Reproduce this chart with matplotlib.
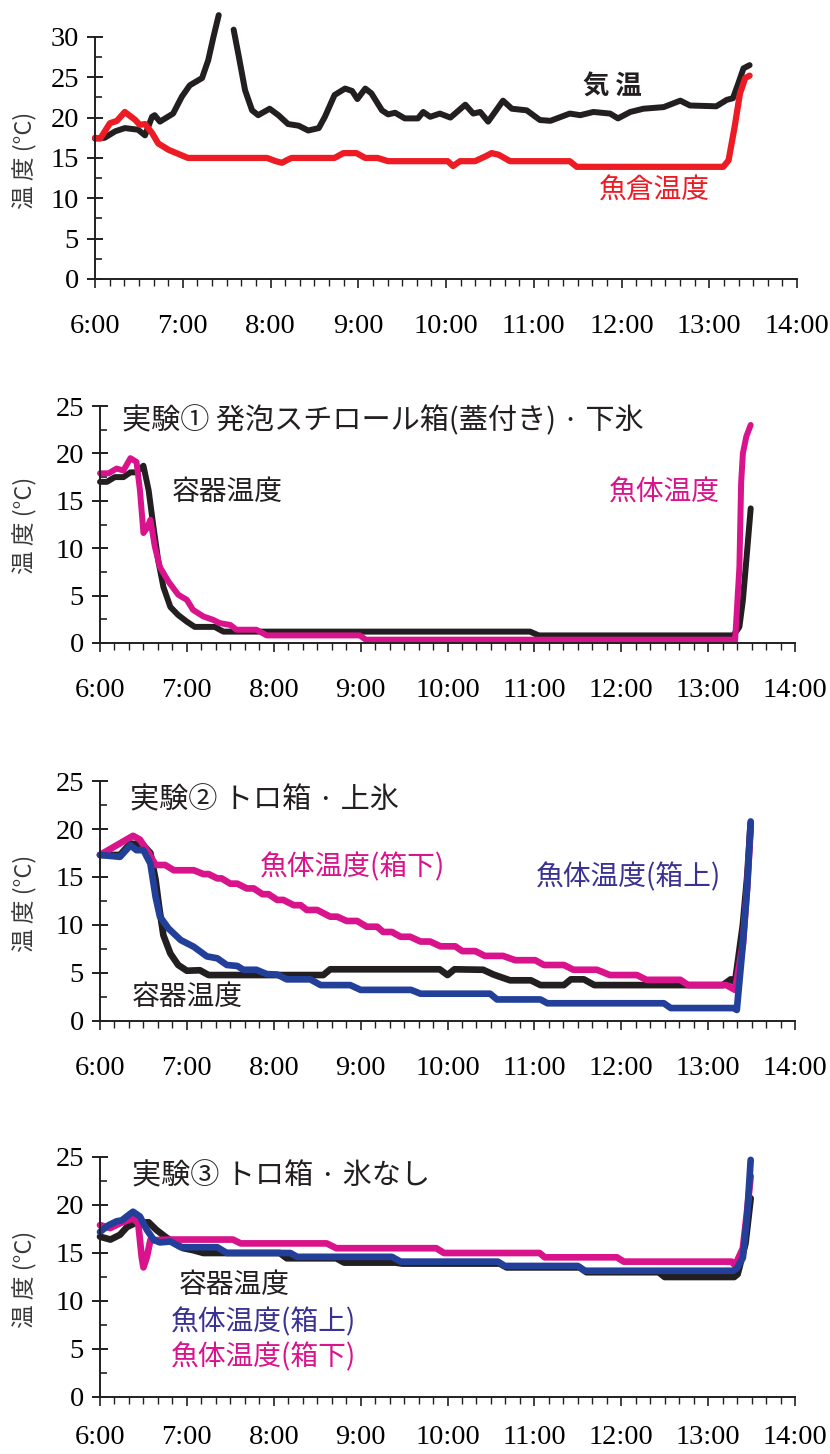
import numpy as np
import matplotlib
matplotlib.use("Agg")
import matplotlib.pyplot as plt
from matplotlib.ticker import FixedLocator

JP = ['Noto Sans CJK JP', 'DejaVu Sans']
SERIF = ['Liberation Serif', 'DejaVu Serif']
plt.rcParams['font.family'] = JP

nan = np.nan

# ---- time axis ----
hour_ticks = [6, 7, 8, 9, 10, 11, 12, 13, 14]
hour_labels = ["6:00", "7:00", "8:00", "9:00", "10:00", "11:00", "12:00", "13:00", "14:00"]

# ---- panel 1: air temperature and fish-hold temperature ----
t_air = [6.00, 6.11, 6.23, 6.34, 6.49, 6.57, 6.65, 6.68, 6.74, 6.80, 6.89, 6.99, 7.08,
         7.22, 7.29, 7.35, 7.41, 7.50, 7.58, 7.64, 7.71, 7.79, 7.86, 7.99, 8.09, 8.20,
         8.32, 8.43, 8.55, 8.62, 8.73, 8.85, 8.93, 8.99, 9.08, 9.15, 9.27, 9.34, 9.42,
         9.53, 9.68, 9.74, 9.82, 9.93, 10.05, 10.22, 10.31, 10.39, 10.48, 10.65, 10.75,
         10.92, 11.07, 11.19, 11.41, 11.53, 11.68, 11.87, 11.96, 12.10, 12.25, 12.48,
         12.67, 12.78, 13.08, 13.20, 13.27, 13.33, 13.39, 13.46]
air = [17.4, 17.5, 18.3, 18.7, 18.5, 17.8, 20.1, 20.3, 19.5, 19.9, 20.5, 22.6, 24.0,
       24.9, 27.1, 30.0, 32.7, nan, 30.9, 27.5, 23.4, 20.9, 20.3, 21.1, 20.3, 19.2,
       19.0, 18.4, 18.7, 20.1, 22.8, 23.6, 23.3, 22.3, 23.6, 23.0, 20.9, 20.4, 20.6,
       19.9, 19.9, 20.7, 20.1, 20.5, 20.0, 21.6, 20.5, 20.7, 19.5, 22.1, 21.1,
       20.9, 19.7, 19.6, 20.5, 20.3, 20.7, 20.5, 19.9, 20.7, 21.1, 21.3,
       22.1, 21.5, 21.4, 22.2, 22.4, 24.2, 26.1, 26.5]

t_hold = [6.00, 6.06, 6.17, 6.25, 6.34, 6.46, 6.51, 6.57, 6.65, 6.72, 6.84, 6.95, 7.06,
          7.96, 8.06, 8.13, 8.20, 8.24, 8.73, 8.83, 8.98, 9.08, 9.22, 9.34, 10.02, 10.08,
          10.16, 10.33, 10.45, 10.52, 10.60, 10.73, 11.41, 11.49, 13.16, 13.22, 13.29,
          13.35, 13.41, 13.46]
hold = [17.5, 17.4, 19.3, 19.6, 20.7, 19.7, 19.1, 19.2, 18.1, 16.8, 16.0, 15.5, 15.0,
        15.0, 14.6, 14.4, 14.8, 15.0, 15.0, 15.6, 15.6, 15.0, 15.0, 14.6, 14.6, 14.0,
        14.6, 14.6, 15.2, 15.6, 15.4, 14.6, 14.6, 13.9, 13.9, 14.7, 18.9,
        23.0, 24.9, 25.2]

# ---- panel 2: experiment 1 (styrofoam box with lid, ice below) ----
t_box1 = [6.00, 6.08, 6.17, 6.27, 6.35, 6.42, 6.50, 6.56, 6.61, 6.67, 6.73, 6.81, 6.90,
          7.00, 7.09, 7.32, 7.42, 10.95, 11.05, 13.29, 13.36, 13.40, 13.44, 13.49]
box1 = [17.0, 17.0, 17.5, 17.5, 18.0, 18.0, 18.7, 16.1, 12.6, 8.7, 5.9, 3.8, 2.95,
        2.25, 1.7, 1.7, 1.2, 1.2, 0.8, 0.8, 1.7, 4.5, 8.75, 14.2]

t_fish1 = [6.00, 6.10, 6.19, 6.27, 6.35, 6.42, 6.46, 6.50, 6.54, 6.58, 6.63, 6.69, 6.79,
           6.90, 7.00, 7.07, 7.19, 7.30, 7.38, 7.50, 7.57, 7.80, 7.92, 8.99, 9.06, 13.29,
           13.31, 13.36, 13.38, 13.40, 13.44, 13.49]
fish1 = [17.9, 17.9, 18.4, 18.2, 19.5, 19.1, 16.1, 11.6, 12.1, 13.0, 10.2, 8.0, 6.45,
         5.1, 4.55, 3.5, 2.8, 2.45, 2.1, 1.9, 1.4, 1.4, 0.8, 0.8, 0.35, 0.35,
         0.2, 8.0, 16.9, 20.0, 21.8, 23.0]

# ---- panel 3: experiment 2 (tray box, ice on top) ----
t_box2 = [6.00, 6.23, 6.35, 6.50, 6.58, 6.64, 6.68, 6.73, 6.81, 6.90, 7.00, 7.15, 7.25,
          8.57, 8.65, 9.91, 10.00, 10.08, 10.41, 10.53, 10.72, 10.96, 11.07, 11.34,
          11.42, 11.57, 11.69, 13.17, 13.26, 13.31, 13.40, 13.45, 13.49]
box2 = [17.3, 17.3, 18.5, 18.3, 17.5, 14.7, 11.9, 8.9, 7.0, 5.8, 5.2, 5.25, 4.75,
        4.75, 5.35, 5.35, 4.75, 5.35, 5.3, 4.8, 4.2, 4.2, 3.7, 3.7,
        4.3, 4.3, 3.7, 3.7, 4.3, 4.0, 10.0, 15.0, 20.6]

t_top2 = [6.00, 6.23, 6.35, 6.42, 6.50, 6.58, 6.64, 6.69, 6.79, 6.93, 7.08, 7.23, 7.35,
          7.46, 7.58, 7.65, 7.80, 7.92, 8.04, 8.15, 8.42, 8.54, 8.88, 9.00, 9.58, 9.69,
          10.49, 10.57, 11.07, 11.15, 12.49, 12.57, 13.30, 13.33, 13.40, 13.45, 13.49]
top2 = [17.3, 17.1, 18.3, 17.8, 17.8, 16.4, 12.9, 10.85, 9.6, 8.4, 7.7, 6.7, 6.5,
        5.8, 5.7, 5.3, 5.3, 4.85, 4.8, 4.3, 4.3, 3.7, 3.7, 3.2, 3.2, 2.8,
        2.8, 2.2, 2.2, 1.8, 1.8, 1.3, 1.3, 1.1, 8.0, 14.0, 20.8]

t_bot2 = [6.00, 6.19, 6.38, 6.46, 6.56, 6.64, 6.75, 6.85, 7.08, 7.19, 7.25, 7.35, 7.40,
          7.50, 7.58, 7.69, 7.77, 7.87, 7.94, 8.04, 8.11, 8.23, 8.31, 8.38, 8.50, 8.65,
          8.73, 8.84, 8.96, 9.07, 9.19, 9.26, 9.36, 9.46, 9.57, 9.69, 9.80, 9.92, 10.09,
          10.17, 10.32, 10.43, 10.64, 10.78, 11.01, 11.11, 11.34, 11.45, 11.72, 11.87,
          12.18, 12.29, 12.68, 12.77, 13.21, 13.31, 13.40, 13.45, 13.49]
bot2 = [17.3, 18.3, 19.3, 18.9, 17.5, 16.25, 16.25, 15.7, 15.7, 15.3, 15.3, 14.85, 14.85,
        14.3, 14.3, 13.8, 13.8, 13.2, 13.2, 12.6, 12.6, 12.05, 12.05, 11.55, 11.55, 10.85,
        10.85, 10.4, 10.4, 9.8, 9.8, 9.25, 9.25, 8.75, 8.75, 8.25, 8.25, 7.75, 7.75,
        7.25, 7.25, 6.75, 6.75, 6.3, 6.3, 5.8, 5.8, 5.3, 5.3, 4.75,
        4.75, 4.25, 4.25, 3.7, 3.7, 3.2, 8.0, 14.0, 20.3]

# ---- panel 4: experiment 3 (tray box, no ice) ----
t_box3 = [6.00, 6.12, 6.23, 6.31, 6.40, 6.56, 6.65, 6.75, 6.86, 6.96, 7.07, 7.19, 8.07,
          8.15, 8.72, 8.81, 9.40, 9.48, 10.60, 10.68, 11.52, 11.60, 12.43, 12.50, 13.30,
          13.34, 13.43, 13.49]
box3 = [16.7, 16.4, 16.9, 17.7, 18.1, 18.2, 17.4, 16.7, 16.0, 15.5, 15.3, 15.0, 15.0,
        14.45, 14.45, 14.0, 14.0, 13.9, 13.9, 13.5, 13.5, 13.0, 13.0, 12.5, 12.5,
        12.8, 16.0, 20.7]

t_top3 = [6.00, 6.10, 6.19, 6.25, 6.35, 6.38, 6.46, 6.54, 6.62, 6.69, 6.81, 6.93, 7.35,
          7.46, 8.19, 8.27, 9.36, 9.46, 10.58, 10.66, 11.50, 11.58, 13.29, 13.33, 13.40,
          13.45, 13.49]
top3 = [17.2, 17.9, 18.3, 18.4, 19.1, 19.3, 18.8, 17.4, 16.35, 16.1, 16.2, 15.6, 15.6,
        15.0, 15.0, 14.6, 14.6, 14.1, 14.1, 13.65, 13.65, 13.15, 13.15, 13.4, 14.5,
        19.0, 24.7]

t_bot3 = [6.00, 6.12, 6.23, 6.38, 6.44, 6.48, 6.50, 6.54, 6.58, 6.65, 6.81, 7.53, 7.62,
          8.61, 8.72, 9.87, 9.96, 11.06, 11.12, 11.95, 12.03, 13.27, 13.31, 13.40, 13.45,
          13.49]
bot3 = [17.9, 17.6, 18.1, 18.6, 18.1, 14.6, 13.5, 14.6, 16.35, 16.35, 16.4, 16.4, 16.0,
        16.0, 15.5, 15.5, 15.0, 15.0, 14.55, 14.55, 14.1, 14.1, 13.7, 15.5, 19.5, 23.0]

BLACK = '#231f20'
RED = '#ed1c24'
MAGENTA = '#d9138b'
BLUE = '#22409a'
BLUE_TXT = '#3a3292'

W, H = 830, 1454
fig = plt.figure(figsize=(W / 100, H / 100), dpi=100)


def make_axes(x0, x1, y0, px_per_deg, ytop, spine_top, xpad=19):
    ax = fig.add_axes([x0 / W, (H - y0) / H, (x1 - x0) / W, ytop * px_per_deg / H])
    ax.set_xlim(6, 14)
    ax.set_ylim(0, ytop)
    for s in ('top', 'right'):
        ax.spines[s].set_visible(False)
    for s in ('left', 'bottom'):
        ax.spines[s].set_linewidth(1.4)
        ax.spines[s].set_color(BLACK)
    ax.spines['left'].set_bounds(0, spine_top)
    ax.xaxis.set_major_locator(FixedLocator(hour_ticks))
    ax.set_xticklabels(hour_labels)
    ax.xaxis.set_minor_locator(FixedLocator(np.arange(6, 14.001, 1 / 6)))
    ax.yaxis.set_major_locator(FixedLocator(np.arange(0, spine_top + 0.1, 5)))
    ax.yaxis.set_minor_locator(FixedLocator(np.arange(2.5, spine_top, 5)))
    ax.tick_params(axis='x', which='major', direction='out', length=6.5, width=1.2,
                   pad=xpad, labelsize=20.5, color=BLACK)
    ax.tick_params(axis='x', which='minor', direction='out', length=5, width=1.0, color=BLACK)
    ax.tick_params(axis='y', which='major', direction='inout', length=11, width=1.4,
                   pad=6, labelsize=20.5, color=BLACK)
    ax.tick_params(axis='y', which='minor', direction='in', length=5, width=1.2, color=BLACK)
    for lab in ax.get_xticklabels() + ax.get_yticklabels():
        lab.set_family(SERIF)
    return ax


def ylabel(yc):
    fig.text(25 / W, (H - yc) / H, "温 度 (°C)", rotation=90, ha='center', va='center',
             fontsize=17, color='#3a3a3a', family=JP)


def line(ax, t, v, color, lw):
    ax.plot(t, v, color=color, lw=lw, solid_capstyle='round', solid_joinstyle='round',
            clip_on=False)


# panel 1
ax1 = make_axes(95, 797, 279, 8.07, 33.0, 30)
line(ax1, t_air, air, BLACK, 4.3)
line(ax1, t_hold, hold, RED, 4.5)
ax1.text(11.56, 23.8, "気 温", fontsize=19, fontweight='bold', color=BLACK, va='center')
ax1.text(11.74, 11.0, "魚倉温度", fontsize=20, color=RED, va='center')
ylabel(160)

# panel 2
ax2 = make_axes(100, 795, 643, 9.48, 25.5, 25)
line(ax2, t_box1, box1, BLACK, 4.3)
line(ax2, t_fish1, fish1, MAGENTA, 4.3)
ax2.text(6.25, 23.4, "実験① 発泡スチロール箱(蓋付き) · 下氷", fontsize=21, color=BLACK, va='center')
ax2.text(6.82, 15.9, "容器温度", fontsize=20, color=BLACK, va='center')
ax2.text(11.86, 15.9, "魚体温度", fontsize=20, color=MAGENTA, va='center')
ylabel(525)

# panel 3
ax3 = make_axes(100, 795, 1020.5, 9.57, 25.5, 25)
line(ax3, t_box2, box2, BLACK, 4.8)
line(ax3, t_bot2, bot2, MAGENTA, 4.8)
line(ax3, t_top2, top2, BLUE, 4.8)
ax3.text(6.345, 23.0, "実験② トロ箱 · 上氷", fontsize=21, color=BLACK, va='center')
ax3.text(7.84, 16.0, "魚体温度(箱下)", fontsize=20, color=MAGENTA, va='center')
ax3.text(11.02, 15.0, "魚体温度(箱上)", fontsize=20, color=BLUE_TXT, va='center')
ax3.text(6.37, 2.45, "容器温度", fontsize=20, color=BLACK, va='center')
ylabel(903)

# panel 4
ax4 = make_axes(100, 795, 1397, 9.6, 25.5, 25, xpad=14)
line(ax4, t_box3, box3, BLACK, 4.8)
line(ax4, t_bot3, bot3, MAGENTA, 4.8)
line(ax4, t_top3, top3, BLUE, 4.8)
ax4.text(6.37, 23.0, "実験③ トロ箱 · 氷なし", fontsize=21, color=BLACK, va='center')
ax4.text(6.91, 11.67, "容器温度", fontsize=20, color=BLACK, va='center')
ax4.text(6.82, 7.8, "魚体温度(箱上)", fontsize=20, color=BLUE_TXT, va='center')
ax4.text(6.82, 4.17, "魚体温度(箱下)", fontsize=20, color=MAGENTA, va='center')
ylabel(1279)

fig.savefig("out.png", dpi=100)
